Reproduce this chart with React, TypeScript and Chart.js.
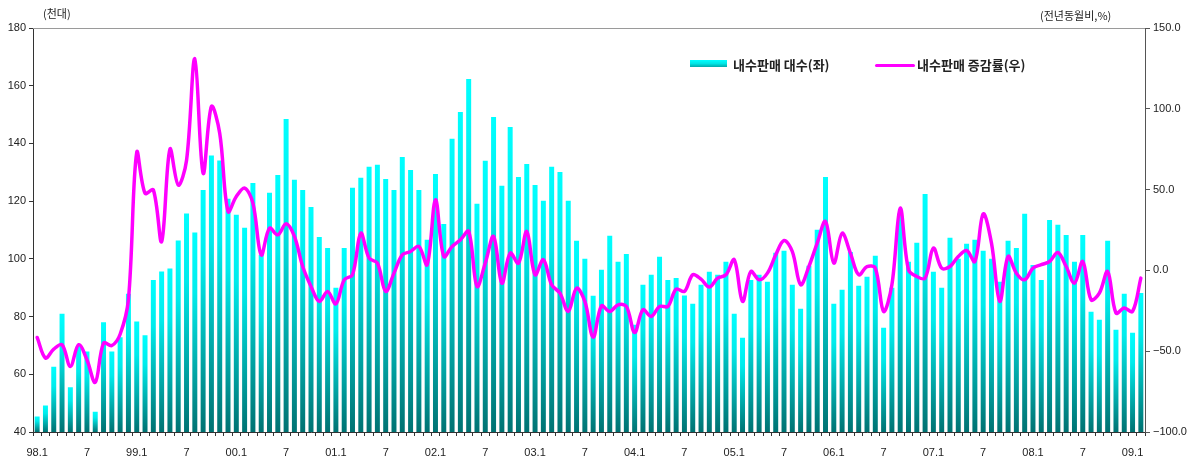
import React, { useEffect, useRef } from 'react';
import { Chart, registerables } from 'chart.js';

Chart.register(...registerables);

// ---- Data ----
const years = ['98', '99', '00', '01', '02', '03', '04', '05', '06', '07', '08', '09'];
const lastYear = '09';
const lastMonth = 2;
const categories: string[] = [];
years.forEach((y) => {
  for (let m = 1; m <= 12; m++) {
    if (y === lastYear && m > lastMonth) break;
    categories.push(`${y}.${m}`);
  }
});

// 내수판매 대수 (천대) - left axis
const salesUnits: number[] = [
  45.4, 49.2, 62.6, 81.0, 55.5, 69.9, 67.9, 47.0, 78.0, 67.9, 72.8, 87.9,
  78.3, 73.5, 92.7, 95.6, 96.7, 106.4, 115.7, 109.1, 123.9, 135.8, 134.1, 120.8,
  115.3, 110.8, 126.3, 101.4, 122.9, 129.1, 148.5, 127.4, 123.9, 118.0, 107.6, 103.8,
  90.0, 103.8, 124.6, 128.1, 131.9, 132.6, 127.7, 123.9, 135.3, 130.8, 123.9, 106.6,
  129.4, 112.1, 141.6, 150.9, 162.3, 119.1, 134.0, 149.2, 125.3, 145.7, 128.4, 132.9,
  125.6, 120.1, 131.9, 130.1, 120.1, 106.3, 100.0, 87.2, 96.2, 108.0, 99.0, 101.7,
  77.2, 91.0, 94.5, 100.7, 92.7, 93.4, 87.3, 84.4, 91.0, 95.5, 94.5, 99.0,
  81.0, 72.7, 92.7, 94.5, 92.1, 102.1, 102.8, 91.0, 82.7, 97.6, 110.1, 128.4,
  84.4, 89.3, 102.4, 90.7, 93.8, 101.1, 76.1, 90.0, 115.9, 99.0, 105.6, 122.5,
  95.5, 90.0, 107.3, 100.0, 105.2, 106.6, 102.8, 100.0, 92.1, 106.3, 103.8, 115.6,
  97.9, 92.7, 113.5, 111.8, 108.3, 99.0, 108.3, 81.7, 78.9, 106.3, 75.4, 87.9,
  74.4, 88.2,
];

// 내수판매 증감률 (전년동월비, %) - right axis
const salesGrowth: number[] = [
  -41.5, -54.2, -48.7, -46.0, -59.4, -46.0, -55.3, -69.3, -45.0, -46.5, -39.5, -18.0,
  73.0, 47.7, 49.8, 17.8, 75.0, 52.8, 68.0, 131.0, 60.1, 101.4, 84.9, 36.5,
  45.7, 50.9, 41.6, 9.6, 26.1, 22.0, 28.8, 21.0, 2.4, -9.9, -19.2, -13.0,
  -20.7, -5.8, -2.7, 23.0, 7.6, 4.5, -13.0, -1.7, 9.6, 11.7, 14.8, 3.5,
  43.7, 8.6, 14.8, 18.9, 24.1, -9.9, 4.5, 21.0, -7.9, 10.7, 4.5, 24.1,
  -2.7, 6.6, -8.9, -14.1, -25.4, -11.0, -19.2, -41.3, -22.0, -25.4, -21.3, -22.3,
  -38.4, -24.4, -28.5, -22.3, -22.3, -11.6, -13.0, -2.7, -5.4, -10.3, -4.8, -2.7,
  6.6, -19.2, -0.7, -5.8, -1.7, 9.6, 18.5, 11.7, -8.9, 2.4, 16.9, 30.3,
  4.5, 23.0, 10.7, -2.7, 2.4, 1.4, -25.4, -8.9, 38.5, 0.4, -3.8, -4.8,
  13.8, 1.4, 2.4, 8.6, 12.3, 5.5, 35.0, 16.9, -19.2, 8.6, -1.7, -5.8,
  1.4, 3.5, 5.5, 11.1, 2.4, -7.9, 5.5, -18.2, -14.1, -0.7, -26.4, -23.3,
  -25.4, -4.8,
];

const leftMin = 40;
const leftMax = 180;
const leftStep = 20;
const rightMin = -100;
const rightMax = 150;
const rightStep = 50;

const leftUnit = '(천대)';
const rightUnit = '(전년동월비,%)';
const barLabel = '내수판매 대수(좌)';
const lineLabel = '내수판매 증감률(우)';

const W = 1197;
const H = 459;
const LATIN = '"Liberation Sans", Arial, sans-serif';
const KR = '"Noto Sans CJK KR", "Noto Sans", sans-serif';

function tickLabel(cat: string): string {
  const [y, m] = cat.split('.');
  if (m === '1') return `${y}.1`;
  if (m === '7') return '7';
  return '';
}

const topBorder = {
  id: 'topBorder',
  afterDraw(chart: any) {
    const { ctx, chartArea } = chart;
    ctx.save();
    ctx.strokeStyle = '#9a9a9a';
    ctx.lineWidth = 1;
    ctx.beginPath();
    ctx.moveTo(chartArea.left, Math.round(chartArea.top) + 0.5);
    ctx.lineTo(chartArea.right, Math.round(chartArea.top) + 0.5);
    ctx.stroke();
    ctx.restore();
  },
};

export default function App() {
  const ref = useRef<HTMLCanvasElement | null>(null);

  useEffect(() => {
    document.body.style.margin = '0';
    const canvas = ref.current;
    if (!canvas) return;

    const chart = new Chart(canvas, {
      type: 'bar',
      data: {
        labels: categories,
        datasets: [
          {
            type: 'line',
            label: lineLabel,
            data: salesGrowth,
            yAxisID: 'y1',
            borderColor: '#ff00ff',
            borderWidth: 3.5,
            pointRadius: 0,
            tension: 0.35,
            order: 0,
            borderCapStyle: 'round',
            borderJoinStyle: 'round',
          } as any,
          {
            type: 'bar',
            label: barLabel,
            data: salesUnits,
            yAxisID: 'y',
            barPercentage: 0.6,
            categoryPercentage: 1,
            order: 1,
            backgroundColor: (ctx: any) => {
              const c = ctx.chart;
              if (!c.chartArea || ctx.type !== 'data') return '#00e0e0';
              const yS = c.scales.y;
              const top = yS.getPixelForValue(ctx.raw as number);
              const bottom = yS.getPixelForValue(leftMin);
              if (!isFinite(top) || !isFinite(bottom) || bottom - top < 1) return '#00e0e0';
              const g = c.ctx.createLinearGradient(0, top, 0, bottom);
              g.addColorStop(0, '#00ffff');
              g.addColorStop(0.3, '#00ecec');
              g.addColorStop(1, '#007272');
              return g;
            },
          } as any,
        ],
      },
      options: {
        responsive: false,
        animation: false,
        devicePixelRatio: 1,
        layout: { padding: { top: 28, left: 0, right: 0, bottom: 0 } },
        plugins: {
          legend: { display: false },
          tooltip: { enabled: false },
        },
        scales: {
          x: {
            type: 'category',
            offset: true,
            grid: {
              display: true,
              drawOnChartArea: false,
              drawTicks: true,
              tickLength: 4,
              offset: true,
              color: '#333',
            },
            border: { display: true, color: '#333', width: 1 },
            ticks: {
              autoSkip: false,
              maxRotation: 0,
              minRotation: 0,
              padding: 10,
              color: '#222',
              font: { size: 11, family: LATIN },
              callback: (_v: any, idx: number) => tickLabel(categories[idx]),
            },
            afterFit: (s: any) => {
              s.height = H - 432;
            },
          },
          y: {
            position: 'left',
            min: leftMin,
            max: leftMax,
            grid: { display: true, drawOnChartArea: false, tickLength: 4, color: '#333' },
            border: { display: true, color: '#333', width: 1 },
            ticks: {
              stepSize: leftStep,
              padding: 3,
              color: '#222',
              font: { size: 11, family: LATIN },
            },
            afterFit: (s: any) => {
              s.width = 33;
            },
          },
          y1: {
            position: 'right',
            min: rightMin,
            max: rightMax,
            grid: { display: true, drawOnChartArea: false, tickLength: 5, color: '#555' },
            border: { display: true, color: '#555', width: 1 },
            ticks: {
              stepSize: rightStep,
              padding: 3,
              color: '#222',
              font: { size: 11, family: LATIN },
              callback: (v: any) => {
                const n = Number(v);
                const s = Math.abs(n).toFixed(1);
                return n < 0 ? `\u2212${s}` : s;
              },
            },
            afterFit: (s: any) => {
              s.width = W - 1145;
            },
          },
        },
      } as any,
      plugins: [topBorder],
    });

    return () => {
      chart.destroy();
    };
  }, []);

  const textStyle: React.CSSProperties = {
    position: 'absolute',
    fontFamily: KR,
    color: '#222',
    whiteSpace: 'nowrap',
    lineHeight: 1,
  };

  return (
    <div style={{ position: 'fixed', left: 0, top: 0, width: W, height: H, background: '#fff' }}>
      <canvas ref={ref} width={W} height={H} style={{ width: W, height: H, display: 'block' }} />
      <div style={{ ...textStyle, left: 43, top: 8, fontSize: 11 }}>{leftUnit}</div>
      <div style={{ ...textStyle, left: 1040, top: 10, fontSize: 11 }}>{rightUnit}</div>
      <div
        style={{
          position: 'absolute',
          left: 690,
          top: 60,
          width: 37,
          height: 7,
          background: 'linear-gradient(to bottom, #00ffff 0%, #00e6e6 50%, #00aaaa 100%)',
        }}
      />
      <div style={{ ...textStyle, left: 733, top: 58, fontSize: 13, fontWeight: 700 }}>{barLabel}</div>
      <div
        style={{
          position: 'absolute',
          left: 875,
          top: 64,
          width: 40,
          height: 3,
          background: '#ff00ff',
          borderRadius: 2,
        }}
      />
      <div style={{ ...textStyle, left: 917, top: 58, fontSize: 13, fontWeight: 700 }}>{lineLabel}</div>
    </div>
  );
}
